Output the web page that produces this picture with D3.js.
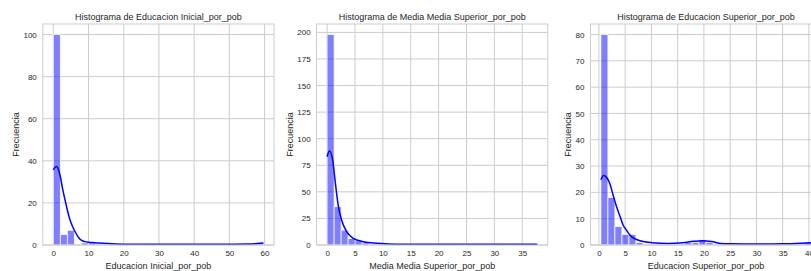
<!doctype html>
<html>
  <head>
    <meta charset="utf-8">
    <script src="https://cdnjs.cloudflare.com/ajax/libs/d3/7.8.5/d3.min.js"></script>
    <style>
      body { margin: 0; background: #fff; }
      svg { display: block; font-family: "Liberation Sans", Arial, sans-serif; }
    </style>
  </head>
  <body>
    <svg></svg>
    <script>
      var width = 811,
          height = 271;

      // titulos y etiquetas
      var titles = ["Histograma de Educacion Inicial_por_pob",
                    "Histograma de Media Media Superior_por_pob",
                    "Histograma de Educacion Superior_por_pob"];
      var xLabels = ["Educacion Inicial_por_pob",
                     "Media Media Superior_por_pob",
                     "Educacion Superior_por_pob"];

      // rango de datos (min, max) de cada variable, 30 bins
      var dataRanges = [[0, 59.7], [0, 37.7], [0.38, 40.42]];

      // conteos por bin
      var countsInicial = [100,5,7,0,1,1,0,0,0,0, 0,0,0,0,0,0,0,0,0,0, 0,0,0,0,0,0,0,0,0,1];
      var countsMedia   = [198,36,14,6,4,2,1,0,1,0, 1,0,1,0,0,1,0,0,0,1, 0,0,0,1,0,0,1,0,0,1];
      var countsSuperior = [80,18,7,4,4,1,0,0,0,0, 0,0,1,1,2,1,0,0,0,0, 0,0,0,0,0,0,0,0,0,1];

      // curva kde [x, frecuencia]
      var kdeInicial = [[0,35.7],[0.5,36.9],[0.95,37.3],[1.5,35.8],[2,32.5],[2.66,26.5],[3.33,21.4],
                        [4,16.5],[4.75,11.9],[5.5,8.7],[6.2,6.3],[7,4],[7.6,2.7],[8.3,2],[9,1.6],
                        [10,1.3],[11.8,1.1],[13,0.9],[16.6,0.6],[20,0.4],[26,0.3],[40,0.3],
                        [50,0.35],[55,0.45],[58,0.7],[59.7,0.95]];
      var kdeMedia = [[0,83],[0.4,88.4],[1.0,80],[1.42,61],[2.0,37],[2.6,23.5],[3.5,12.5],[4.7,6.3],
                      [6.5,3.1],[8.9,1.6],[11,1.0],[14,0.7],[20,0.6],[25,0.7],[30,0.6],[35,0.7],[37.7,0.8]];
      var kdeSuperior = [[0.38,24.8],[0.9,26.4],[1.4,25.8],[2.06,23.5],[2.7,19],[3.35,14.6],[4.0,11],
                         [4.6,7.6],[5.3,5.5],[5.9,3.8],[6.8,2.4],[7.85,1.6],[10.1,0.9],[13.3,0.6],
                         [16,0.9],[18,1.4],[19.7,1.65],[21.5,1.3],[23.3,0.6],[25.2,0.45],[30,0.35],
                         [35,0.45],[38.5,0.7],[40.42,0.9]];

      // ticks
      var xTicksInicial = [0,10,20,30,40,50,60];
      var xTicksMedia = [0,5,10,15,20,25,30,35];
      var xTicksSuperior = [0,5,10,15,20,25,30,35,40];
      var yTicksInicial = [0,20,40,60,80,100];
      var yTicksMedia = [0,25,50,75,100,125,150,175,200];
      var yTicksSuperior = [0,10,20,30,40,50,60,70,80];

      var panels = [
        {title: titles[0], xLabel: xLabels[0], range: dataRanges[0], counts: countsInicial, kde: kdeInicial, xTicks: xTicksInicial, yTicks: yTicksInicial},
        {title: titles[1], xLabel: xLabels[1], range: dataRanges[1], counts: countsMedia, kde: kdeMedia, xTicks: xTicksMedia, yTicks: yTicksMedia},
        {title: titles[2], xLabel: xLabels[2], range: dataRanges[2], counts: countsSuperior, kde: kdeSuperior, xTicks: xTicksSuperior, yTicks: yTicksSuperior}
      ];

      var svg = d3.select("svg").attr("width", width).attr("height", height);

      var panelW = 231.2, plotTop = 24, plotBottom = 245;
      var lefts = [42.8, 316.6, 590.4];
      var gridColor = "#cccccc", textColor = "#262626";

      panels.forEach(function(p, i) {
        var g = svg.append("g").attr("transform", "translate(" + lefts[i] + ",0)");
        var lo = p.range[0], hi = p.range[1], pad = (hi - lo) * 0.05;
        var x = d3.scaleLinear().domain([lo - pad, hi + pad]).range([0, panelW]);
        var y = d3.scaleLinear().domain([0, d3.max(p.counts) * 1.05]).range([plotBottom, plotTop]);

        // grid
        g.append("g").selectAll("line").data(p.xTicks).enter().append("line")
          .attr("x1", d => x(d)).attr("x2", d => x(d))
          .attr("y1", plotTop).attr("y2", plotBottom)
          .attr("stroke", gridColor).attr("stroke-width", 1);
        g.append("g").selectAll("line").data(p.yTicks).enter().append("line")
          .attr("x1", 0).attr("x2", panelW)
          .attr("y1", d => y(d)).attr("y2", d => y(d))
          .attr("stroke", gridColor).attr("stroke-width", 1);

        // barras
        var bw = (hi - lo) / p.counts.length;
        g.append("g").selectAll("rect").data(p.counts).enter().append("rect")
          .attr("x", (d, k) => x(lo + k * bw))
          .attr("width", (d, k) => x(lo + (k + 1) * bw) - x(lo + k * bw))
          .attr("y", d => y(d))
          .attr("height", d => plotBottom - y(d))
          .attr("fill", "rgba(0,0,255,0.5)")
          .attr("stroke", "#ffffff").attr("stroke-width", 0.75);

        // kde
        var line = d3.line().x(d => x(d[0])).y(d => y(d[1])).curve(d3.curveMonotoneX);
        g.append("path").datum(p.kde)
          .attr("d", line)
          .attr("fill", "none").attr("stroke", "#0000ff").attr("stroke-width", 1.5);

        // marco
        g.append("rect").attr("x", 0).attr("y", plotTop).attr("width", panelW).attr("height", plotBottom - plotTop)
          .attr("fill", "none").attr("stroke", gridColor).attr("stroke-width", 1);

        // ejes (solo etiquetas)
        var xa = g.append("g").attr("transform", "translate(0," + plotBottom + ")")
          .call(d3.axisBottom(x).tickValues(p.xTicks).tickSize(0).tickPadding(5).tickFormat(d3.format("d")));
        var ya = g.append("g")
          .call(d3.axisLeft(y).tickValues(p.yTicks).tickSize(0).tickPadding(6).tickFormat(d3.format("d")));
        [xa, ya].forEach(function(a) {
          a.select(".domain").remove();
          a.selectAll("text").attr("fill", textColor).attr("font-size", "8px")
            .attr("font-family", "Liberation Sans, Arial, sans-serif");
        });

        // titulo
        g.append("text").attr("x", panelW / 2).attr("y", 19.5)
          .attr("text-anchor", "middle").attr("font-size", "9px").attr("fill", textColor)
          .text(p.title);

        // etiqueta x
        g.append("text").attr("x", panelW / 2).attr("y", 269)
          .attr("text-anchor", "middle").attr("font-size", "9px").attr("fill", textColor)
          .text(p.xLabel);

        // etiqueta y
        var bb = ya.node().getBBox();
        var cx = bb.x - 7.5, cy = (plotTop + plotBottom) / 2;
        g.append("text").attr("transform", "translate(" + cx + "," + cy + ") rotate(-90)")
          .attr("text-anchor", "middle").attr("dominant-baseline", "central")
          .attr("font-size", "9px").attr("fill", textColor)
          .text("Frecuencia");
      });
    </script>
  </body>
</html>
